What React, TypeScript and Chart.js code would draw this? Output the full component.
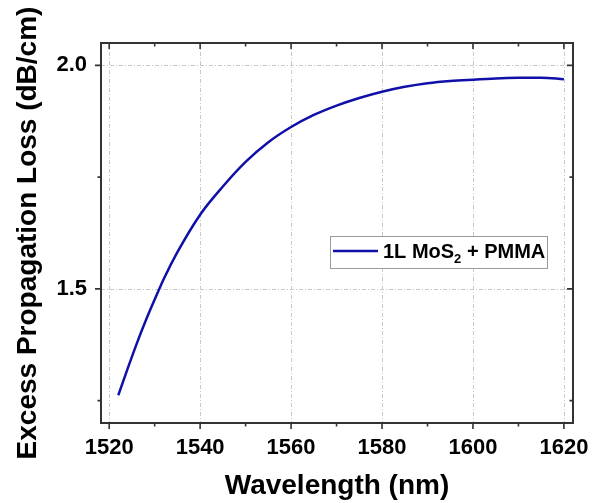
import React, { useEffect, useRef } from "react";
import { Chart, registerables } from "chart.js";

Chart.register(...registerables);

const wavelengths = [1522, 1524, 1526, 1528, 1530, 1532, 1535, 1540, 1545, 1550, 1555, 1560, 1565, 1570, 1575, 1580, 1585, 1590, 1595, 1600, 1605, 1610, 1615, 1620];
const lossValues = [1.262, 1.32, 1.376, 1.428, 1.476, 1.522, 1.582, 1.666, 1.729, 1.784, 1.828, 1.862, 1.889, 1.91, 1.927, 1.941, 1.952, 1.96, 1.965, 1.968, 1.9705, 1.972, 1.9725, 1.969];

const xTickValues = [1520, 1540, 1560, 1580, 1600, 1620];
const xMinorTicks = [1530, 1550, 1570, 1590, 1610];
const yTickValues = [1.5, 2.0];
const yMinorTicks = [1.25, 1.75];
const legendParts = ["1L MoS", "2", " + PMMA"];
const xTitle = "Wavelength (nm)";
const yTitle = "Excess Propagation Loss (dB/cm)";

const FONT = "'Liberation Sans', Arial, sans-serif";
const LINE_COLOR = "#1010a8";

const framePlugin = {
  id: "frame",
  beforeDatasetsDraw(chart: any) {
    const { ctx, chartArea: a, scales } = chart;
    ctx.save();
    ctx.strokeStyle = "#c8c8c8";
    ctx.lineWidth = 1;
    ctx.setLineDash([4, 2, 1, 2]);
    xTickValues.forEach((v) => {
      const x = Math.round(scales.x.getPixelForValue(v)) + 0.5;
      ctx.beginPath();
      ctx.moveTo(x, a.top);
      ctx.lineTo(x, a.bottom);
      ctx.stroke();
    });
    yTickValues.forEach((v) => {
      const y = Math.round(scales.y.getPixelForValue(v)) + 0.5;
      ctx.beginPath();
      ctx.moveTo(a.left, y);
      ctx.lineTo(a.right, y);
      ctx.stroke();
    });
    ctx.restore();
  },
  afterDatasetsDraw(chart: any) {
    const { ctx, chartArea: a, scales } = chart;
    ctx.save();
    ctx.strokeStyle = "#333";
    ctx.lineWidth = 2;
    ctx.strokeRect(a.left, a.top, a.right - a.left, a.bottom - a.top);
    const major = 6;
    const minor = 3.5;
    ctx.lineWidth = 1.6;
    const drawX = (v: number, len: number) => {
      const x = scales.x.getPixelForValue(v);
      ctx.beginPath();
      ctx.moveTo(x, a.bottom);
      ctx.lineTo(x, a.bottom + len);
      ctx.moveTo(x, a.top);
      ctx.lineTo(x, a.top + len);
      ctx.stroke();
    };
    const drawY = (v: number, len: number) => {
      const y = scales.y.getPixelForValue(v);
      ctx.beginPath();
      ctx.moveTo(a.left, y);
      ctx.lineTo(a.left - len, y);
      ctx.moveTo(a.right, y);
      ctx.lineTo(a.right - len, y);
      ctx.stroke();
    };
    xTickValues.forEach((v) => drawX(v, major));
    xMinorTicks.forEach((v) => drawX(v, minor));
    yTickValues.forEach((v) => drawY(v, major));
    yMinorTicks.forEach((v) => drawY(v, minor));

    // legend
    const lx = 330, ly = 236, lw = 217, lh = 32;
    ctx.fillStyle = "#fff";
    ctx.fillRect(lx, ly, lw, lh);
    ctx.strokeStyle = "#9a9a9a";
    ctx.lineWidth = 1;
    ctx.strokeRect(lx + 0.5, ly + 0.5, lw, lh);
    ctx.strokeStyle = LINE_COLOR;
    ctx.lineWidth = 2.5;
    ctx.beginPath();
    ctx.moveTo(lx + 3, ly + 15);
    ctx.lineTo(lx + 48, ly + 15);
    ctx.stroke();
    ctx.fillStyle = "#000";
    ctx.textBaseline = "alphabetic";
    ctx.textAlign = "left";
    let tx = lx + 53;
    const base = ly + 22;
    ctx.font = `bold 20px ${FONT}`;
    ctx.fillText(legendParts[0], tx, base);
    tx += ctx.measureText(legendParts[0]).width;
    ctx.font = `bold 13px ${FONT}`;
    ctx.fillText(legendParts[1], tx, base + 5);
    tx += ctx.measureText(legendParts[1]).width;
    ctx.font = `bold 20px ${FONT}`;
    ctx.fillText(legendParts[2], tx, base);
    ctx.restore();
  },
};

export default function App() {
  const ref = useRef<HTMLCanvasElement | null>(null);
  useEffect(() => {
    if (!ref.current) return;
    const chart = new Chart(ref.current, {
      type: "line",
      data: {
        datasets: [
          {
            label: "1L MoS2 + PMMA",
            data: wavelengths.map((w, i) => ({ x: w, y: lossValues[i] })),
            borderColor: LINE_COLOR,
            borderWidth: 2.5,
            pointRadius: 0,
            fill: false,
            cubicInterpolationMode: "monotone",
          },
        ],
      },
      options: {
        animation: false,
        responsive: true,
        maintainAspectRatio: false,
        layout: { padding: { top: 43, right: 34, left: 0, bottom: 0 } },
        plugins: { legend: { display: false }, tooltip: { enabled: false } },
        scales: {
          x: {
            type: "linear",
            min: 1518.2,
            max: 1622,
            afterBuildTicks: (s: any) => {
              s.ticks = xTickValues.map((v) => ({ value: v }));
            },
            afterFit: (s: any) => {
              s.height = 80;
            },
            grid: { display: false, drawTicks: false },
            border: { display: false },
            ticks: {
              color: "#000",
              font: { family: FONT, size: 22, weight: "bold" },
              padding: 12,
              maxRotation: 0,
              autoSkip: false,
              callback: (v: any) => String(v),
            },
            title: {
              display: true,
              text: xTitle,
              color: "#000",
              font: { family: FONT, size: 28, weight: "bold" },
              padding: { top: 0, bottom: 0 },
            },
          },
          y: {
            type: "linear",
            min: 1.2,
            max: 2.05,
            afterBuildTicks: (s: any) => {
              s.ticks = yTickValues.map((v) => ({ value: v }));
            },
            afterFit: (s: any) => {
              s.width = 101;
            },
            grid: { display: false, drawTicks: false },
            border: { display: false },
            ticks: {
              color: "#000",
              font: { family: FONT, size: 22, weight: "bold" },
              padding: 14,
              callback: (v: any) => Number(v).toFixed(1),
            },
            title: {
              display: true,
              text: yTitle,
              color: "#000",
              font: { family: FONT, size: 28, weight: "bold" },
              padding: { top: 11, bottom: 0 },
            },
          },
        },
      } as any,
      plugins: [framePlugin],
    });
    return () => chart.destroy();
  }, []);
  return (
    <div style={{ position: "fixed", left: 0, top: 0, width: 607, height: 503, background: "#fff" }}>
      <canvas ref={ref} />
    </div>
  );
}
